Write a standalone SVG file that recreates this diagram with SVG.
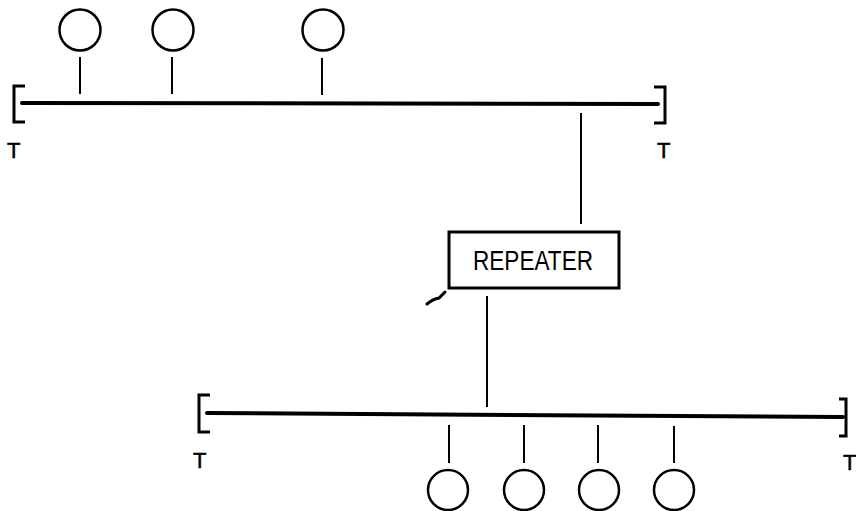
<svg xmlns="http://www.w3.org/2000/svg" width="856" height="511" viewBox="0 0 856 511">
<style>
.bus{stroke:#000;stroke-width:4;fill:none;stroke-linecap:round}
.stub{stroke:#000;stroke-width:2;fill:none}
.brk{stroke:#000;stroke-width:3;fill:none}
.st{stroke:#000;stroke-width:2.5;fill:none}
.t{font-family:"Liberation Sans",Arial,sans-serif;font-size:22px;fill:#000;stroke:#000;stroke-width:0.5}
.lbl{font-family:"Liberation Sans",Arial,sans-serif;font-size:28px;fill:#000}
</style>
<rect width="856" height="511" fill="#fff"/>
<g id="connectors">
<line class="bus" x1="22" y1="103" x2="658" y2="104"/>
<line class="bus" x1="207" y1="413" x2="843" y2="417"/>
<line class="stub" x1="80" y1="57" x2="80" y2="94"/>
<line class="stub" x1="172" y1="57" x2="172" y2="94"/>
<line class="stub" x1="322" y1="58" x2="322" y2="95"/>
<line class="stub" x1="581" y1="113" x2="581" y2="224"/>
<line class="stub" x1="487" y1="296" x2="487" y2="407"/>
<line class="stub" x1="449" y1="425" x2="449" y2="463"/>
<line class="stub" x1="524" y1="425" x2="524" y2="463"/>
<line class="stub" x1="598" y1="425" x2="598" y2="463"/>
<line class="stub" x1="674" y1="426" x2="674" y2="463"/>
</g>
<g id="term-top-left"><polyline class="brk" points="25,86 14,86 14,122 25,122"/><text class="t" x="7" y="158">T</text></g>
<g id="term-top-right"><polyline class="brk" points="654,87 665,87 665,123 654,123"/><text class="t" x="657" y="158">T</text></g>
<g id="term-bot-left"><polyline class="brk" points="210,395 199,395 199,432 210,432"/><text class="t" x="193" y="468">T</text></g>
<g id="term-bot-right"><polyline class="brk" points="839,399 846,399 846,436 839,436"/><text class="t" x="843" y="470">T</text></g>
<g id="station-t1"><circle class="st" cx="80" cy="30" r="20.5"/></g>
<g id="station-t2"><circle class="st" cx="173" cy="30" r="20.5"/></g>
<g id="station-t3"><circle class="st" cx="323" cy="30" r="20.5"/></g>
<g id="station-b1"><circle class="st" cx="448" cy="490" r="20"/></g>
<g id="station-b2"><circle class="st" cx="524" cy="490" r="20"/></g>
<g id="station-b3"><circle class="st" cx="599" cy="490" r="20"/></g>
<g id="station-b4"><circle class="st" cx="674" cy="490" r="20"/></g>
<g id="repeater">
<rect x="449" y="232" width="170" height="56" fill="none" stroke="#000" stroke-width="3"/>
<text class="lbl" x="533" y="270" text-anchor="middle" textLength="120" lengthAdjust="spacingAndGlyphs">REPEATER</text>
</g>
<path d="M427,304 Q433,299 439,298 L445,292" stroke="#000" stroke-width="3" fill="none" stroke-linecap="round"/>
</svg>
